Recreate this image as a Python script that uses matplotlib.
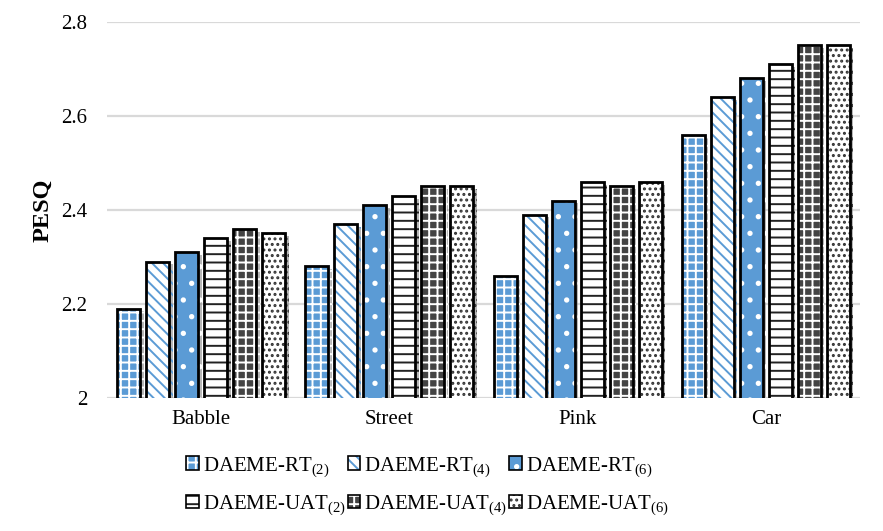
import matplotlib
matplotlib.use("agg")
import matplotlib.pyplot as plt
import matplotlib.patheffects as pe
from matplotlib.patches import Patch
import numpy as np

plt.rcParams["font.family"] = ["Liberation Serif", "DejaVu Serif"]
plt.rcParams["mathtext.fontset"] = "custom"
plt.rcParams["mathtext.rm"] = "Liberation Serif"
plt.rcParams["mathtext.it"] = "Liberation Serif"
plt.rcParams["hatch.linewidth"] = 1.4

BLUE = "#5B9BD5"; GRID = "#d9d9d9"

categories = ["Babble", "Street", "Pink", "Car"]
series = ["DAEME-RT$_{(2)}$", "DAEME-RT$_{(4)}$", "DAEME-RT$_{(6)}$",
          "DAEME-UAT$_{(2)}$", "DAEME-UAT$_{(4)}$", "DAEME-UAT$_{(6)}$"]
rt2 = [2.19, 2.28, 2.26, 2.56]
rt4 = [2.29, 2.37, 2.39, 2.64]
rt6 = [2.31, 2.41, 2.42, 2.68]
uat2 = [2.34, 2.43, 2.46, 2.71]
uat4 = [2.36, 2.45, 2.45, 2.75]
uat6 = [2.35, 2.45, 2.46, 2.75]
values = [rt2, rt4, rt6, uat2, uat4, uat6]

# (face, hatch colour, hatch)
styles = [
    (BLUE, "white", "++"),
    ("white", BLUE, "\\\\\\"),
    (BLUE, "white", "."),
    ("white", "#222222", "--"),
    ("#444444", "white", "++"),
    ("white", "#333333", "..."),
]

fig = plt.figure(figsize=(8.83, 5.31), dpi=100)
ax = fig.add_axes([107/883, 1-398/531, 753/883, 376/531])

x = np.arange(len(categories))
pitch = 0.154; width = 0.122
handles = []
for i, (vals, (fc, hc, h)) in enumerate(zip(values, styles)):
    pos = x + (i - 2.5) * pitch
    ax.bar(pos, vals, width, bottom=0, color=fc, edgecolor=hc, hatch=h,
           linewidth=0, zorder=2,
           path_effects=[pe.SimplePatchShadow(offset=(2.5, -2), shadow_rgbFace="#888888", alpha=0.6),
                         pe.Normal()])
    ax.bar(pos, vals, width, bottom=0, facecolor="none", edgecolor="black",
           linewidth=2, zorder=3)
    handles.append((Patch(facecolor=fc, edgecolor=hc, hatch=h, linewidth=0),
                    Patch(facecolor="none", edgecolor="black", linewidth=1.2)))

ax.set_ylim(2, 2.8)
ax.set_xlim(-0.5, 3.5)
ax.set_yticks([2, 2.2, 2.4, 2.6, 2.8])
ax.set_yticklabels(["2", "2.2", "2.4", "2.6", "2.8"])
ax.set_xticks(x)
ax.set_xticklabels(categories)
ax.yaxis.grid(True, color=GRID, lw=1.6, zorder=0)
ax.set_axisbelow(True)
for s in ax.spines.values():
    s.set_visible(False)
ax.tick_params(length=0, labelsize=15)
ax.tick_params(axis="y", pad=14)
ax.tick_params(axis="x", pad=9)
ax.set_ylabel("PESQ", fontsize=17.5, fontweight="bold", labelpad=6)

# legend fills column-wise, reorder so rows read RT then UAT
order = [0, 3, 1, 4, 2, 5]
fig.legend([handles[k] for k in order], [series[k] for k in order],
           loc="center", bbox_to_anchor=(0.484, 0.085),
           ncol=3, frameon=False, fontsize=15, handlelength=0.6, handleheight=0.6,
           handletextpad=0.2, columnspacing=0.1, labelspacing=0.7)

fig.savefig("out.png", dpi=100)
